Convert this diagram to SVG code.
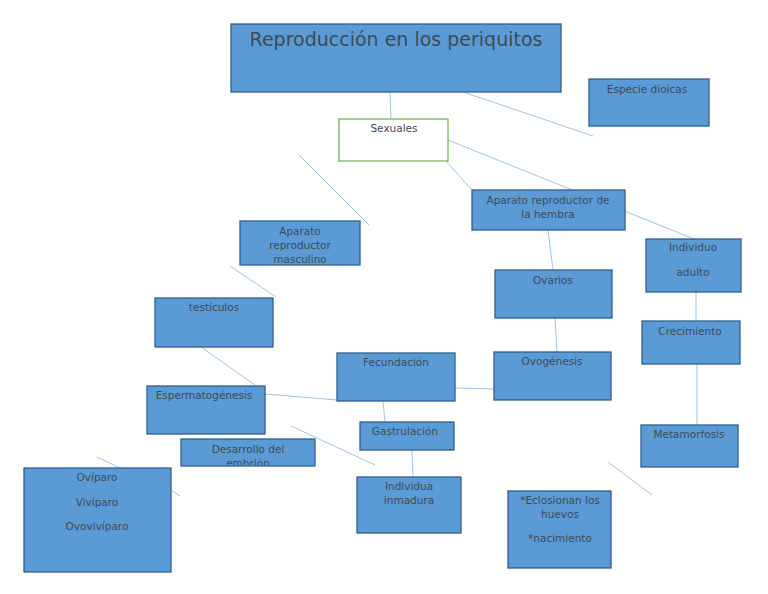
<svg xmlns="http://www.w3.org/2000/svg" width="768" height="594" viewBox="0 0 768 594">
<style>
.b{fill:#5b9bd5;stroke:#2f5f8f;stroke-width:1.3}
.t{font-family:"DejaVu Sans",sans-serif;font-size:10.5px;fill:#3f4a55;text-anchor:middle}
.c line{stroke:#9dc3e6;stroke-width:1}
</style>
<defs>
<clipPath id="c1"><rect x="240" y="221" width="120" height="43"/></clipPath>
<clipPath id="c2"><rect x="181" y="439" width="134" height="26"/></clipPath>
</defs>
<rect width="768" height="594" fill="#fff"/>
<g class="c">
<line x1="390" y1="92" x2="391" y2="119"/>
<line x1="463" y1="92" x2="593" y2="136"/>
<line x1="448" y1="140" x2="694" y2="239"/>
<line x1="437" y1="151" x2="472" y2="190"/>
<line x1="299" y1="155" x2="369" y2="225"/>
<line x1="548" y1="230" x2="553" y2="270"/>
<line x1="555" y1="318" x2="557" y2="352"/>
<line x1="696" y1="292" x2="696" y2="321"/>
<line x1="697" y1="364" x2="697" y2="425"/>
<line x1="230" y1="266" x2="276" y2="297"/>
<line x1="201" y1="347" x2="255" y2="385"/>
<line x1="265" y1="394" x2="337" y2="400"/>
<line x1="455" y1="388" x2="494" y2="389"/>
<line x1="383" y1="401" x2="385" y2="422"/>
<line x1="412" y1="450" x2="413" y2="477"/>
<line x1="291" y1="426" x2="375" y2="465"/>
<line x1="97" y1="457" x2="120" y2="468"/>
<line x1="171" y1="490" x2="180" y2="496"/>
<line x1="608" y1="462" x2="652" y2="495"/>
</g>
<g id="titulo"><rect class="b" x="231" y="24" width="330" height="68"/><text class="t" x="396" y="46" style="font-size:19px">Reproducción en los periquitos</text></g>
<g id="dioicas"><rect class="b" x="589" y="79" width="120" height="47"/><text class="t" x="647" y="93">Especie dioicas</text></g>
<g id="sexuales"><rect x="339" y="119" width="109" height="42" fill="#fff" stroke="#70ad47" stroke-width="1.2"/><text class="t" x="394" y="132">Sexuales</text></g>
<g id="hembra"><rect class="b" x="472" y="190" width="153" height="40"/><text class="t" x="548" y="204">Aparato reproductor de</text><text class="t" x="548" y="218">la hembra</text></g>
<g id="adulto"><rect class="b" x="646" y="239" width="95" height="53"/><text class="t" x="693" y="251">Individuo</text><text class="t" x="693" y="276">adulto</text></g>
<g id="ovarios"><rect class="b" x="495" y="270" width="117" height="48"/><text class="t" x="553" y="284">Ovarios</text></g>
<g id="crecimiento"><rect class="b" x="642" y="321" width="98" height="43"/><text class="t" x="690" y="335">Crecimiento</text></g>
<g id="ovogenesis"><rect class="b" x="494" y="352" width="117" height="48"/><text class="t" x="552" y="365">Ovogénesis</text></g>
<g id="metamorfosis"><rect class="b" x="641" y="425" width="97" height="42"/><text class="t" x="689" y="438">Metamorfosis</text></g>
<g id="masculino"><rect class="b" x="240" y="221" width="120" height="44"/><g clip-path="url(#c1)"><text class="t" x="300" y="235">Aparato</text><text class="t" x="300" y="249">reproductor</text><text class="t" x="300" y="263">masculino</text></g></g>
<g id="testiculos"><rect class="b" x="155" y="298" width="118" height="49"/><text class="t" x="214" y="311">testículos</text></g>
<g id="fecundacion"><rect class="b" x="337" y="353" width="118" height="48"/><text class="t" x="396" y="366">Fecundación</text></g>
<g id="espermatogenesis"><rect class="b" x="147" y="386" width="118" height="48"/><text class="t" x="204" y="399">Espermatogénesis</text></g>
<g id="gastrulacion"><rect class="b" x="360" y="422" width="94" height="28"/><text class="t" x="405" y="435">Gastrulación</text></g>
<g id="embrion"><rect class="b" x="181" y="439" width="134" height="27"/><g clip-path="url(#c2)"><text class="t" x="248" y="453">Desarrollo del</text><text class="t" x="248" y="467">embrión</text></g></g>
<g id="oviparo"><rect class="b" x="24" y="468" width="147" height="104"/><text class="t" x="97" y="481">Ovíparo</text><text class="t" x="97" y="506">Vivíparo</text><text class="t" x="97" y="530">Ovovivíparo</text></g>
<g id="inmadura"><rect class="b" x="357" y="477" width="104" height="56"/><text class="t" x="409" y="490">Individua</text><text class="t" x="409" y="504">inmadura</text></g>
<g id="eclosion"><rect class="b" x="508" y="491" width="103" height="77"/><text class="t" x="560" y="504">*Eclosionan los</text><text class="t" x="560" y="518">huevos</text><text class="t" x="560" y="542">*nacimiento</text></g>
</svg>
